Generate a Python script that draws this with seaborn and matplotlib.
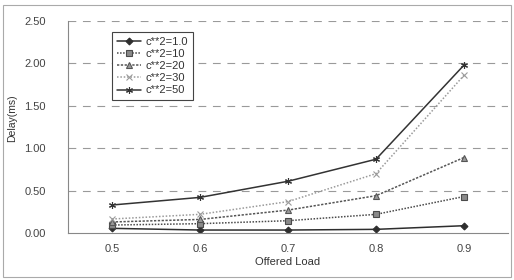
import matplotlib
matplotlib.use("Agg")
import matplotlib.pyplot as plt
from matplotlib.colors import to_hex
from matplotlib.patches import Rectangle
import numpy as np
import pandas as pd
import seaborn as sns

# offered load on the x axis
loads = [0.5, 0.6, 0.7, 0.8, 0.9]
series_names = ["c**2=1.0", "c**2=10", "c**2=20", "c**2=30", "c**2=50"]

# delay (ms)
delay_c1 = [0.055, 0.035, 0.035, 0.043, 0.086]
delay_c10 = [0.094, 0.11, 0.145, 0.22, 0.43]
delay_c20 = [0.13, 0.16, 0.27, 0.44, 0.89]
delay_c30 = [0.165, 0.22, 0.37, 0.70, 1.86]
delay_c50 = [0.33, 0.42, 0.61, 0.87, 1.98]

y_ticks = [0.0, 0.5, 1.0, 1.5, 2.0, 2.5]

rows = []
for name, vals in zip(series_names, [delay_c1, delay_c10, delay_c20, delay_c30, delay_c50]):
    for x, v in zip(loads, vals):
        rows.append({"load": x, "delay": v, "series": name})
df = pd.DataFrame(rows)

sns.set_style("white")
plt.rcParams["font.family"] = ["Liberation Sans", "DejaVu Sans"]

palette = {"c**2=1.0": "#2e2e2e", "c**2=10": "#4a4a4a", "c**2=20": "#555555",
           "c**2=30": "#9a9a9a", "c**2=50": "#333333"}
markers = {"c**2=1.0": "D", "c**2=10": "s", "c**2=20": "^",
           "c**2=30": "x", "c**2=50": (6, 2, 0)}
marker_fill = {"c**2=1.0": "#2e2e2e", "c**2=10": "#8a8a8a", "c**2=20": "#9a9a9a",
               "c**2=30": "#9a9a9a", "c**2=50": "#333333"}
marker_size = {"c**2=1.0": 3.5, "c**2=10": 4, "c**2=20": 4, "c**2=30": 5, "c**2=50": 5}
dashes = {"c**2=1.0": "", "c**2=10": (1, 1), "c**2=20": (1.5, 1),
          "c**2=30": (1, 1.2), "c**2=50": ""}

fig = plt.figure(figsize=(5.14, 2.80), dpi=100)
ax = fig.add_axes([68 / 514, 1 - 233 / 280, 440 / 514, 212 / 280])

sns.lineplot(data=df, x="load", y="delay", hue="series", style="series",
             hue_order=series_names, style_order=series_names,
             palette=palette, markers=False, dashes=dashes,
             linewidth=1.1, ax=ax, legend=False)

# markers per series (filled and line-art markers mixed)
color_to_name = {to_hex(c): n for n, c in palette.items()}
handles = {}
for line in ax.lines:
    name = color_to_name.get(to_hex(line.get_color()))
    if name is None:
        continue
    line.set_marker(markers[name])
    line.set_markersize(marker_size[name])
    line.set_markerfacecolor(marker_fill[name])
    line.set_markeredgecolor(palette[name])
    line.set_markeredgewidth(0.8)
    handles[name] = line

ax.set_xlim(0.45, 0.95)
ax.set_ylim(0, 2.5)
ax.set_xticks(loads)
ax.set_xticklabels([f"{x:.1f}" for x in loads], fontsize=8, color="#444444")
ax.set_xticks([0.55, 0.65, 0.75, 0.85], minor=True)
ax.set_yticks(y_ticks)
ax.set_yticklabels([f"{v:.2f}" for v in y_ticks], fontsize=8, color="#444444")
ax.tick_params(axis="x", which="major", length=0, pad=8)
ax.tick_params(axis="x", which="minor", direction="in", length=3, color="#777777")
ax.tick_params(axis="y", direction="out", length=3, color="#777777", pad=13)

ax.set_xlabel("Offered Load", fontsize=8, color="#333333", labelpad=2)
ax.set_ylabel("Delay(ms)", fontsize=7.5, color="#333333")
ax.yaxis.set_label_coords(-0.115, 0.54)

ax.grid(False)
for v in y_ticks[1:]:
    ax.axhline(v, color="#9a9a9a", linewidth=0.8, dashes=(7, 6), zorder=0)

for side in ["top", "right"]:
    ax.spines[side].set_visible(False)
for side in ["left", "bottom"]:
    ax.spines[side].set_color("#888888")
    ax.spines[side].set_linewidth(0.8)

leg = ax.legend([handles[n] for n in series_names], series_names,
                loc="upper left", bbox_to_anchor=(0.1, 0.95), borderaxespad=0,
                fontsize=8, frameon=True, fancybox=False,
                edgecolor="#444444", handlelength=2.2, handletextpad=0.4,
                labelspacing=0.2, borderpad=0.45, framealpha=1)
leg.get_frame().set_linewidth(0.8)
for t in leg.get_texts():
    t.set_color("#333333")

# outer chart border
fig.patches.append(Rectangle((3 / 514, 3 / 280), 508 / 514, 272 / 280,
                             transform=fig.transFigure, fill=False,
                             edgecolor="#aaaaaa", linewidth=0.8))

fig.savefig("out.png", dpi=100)
